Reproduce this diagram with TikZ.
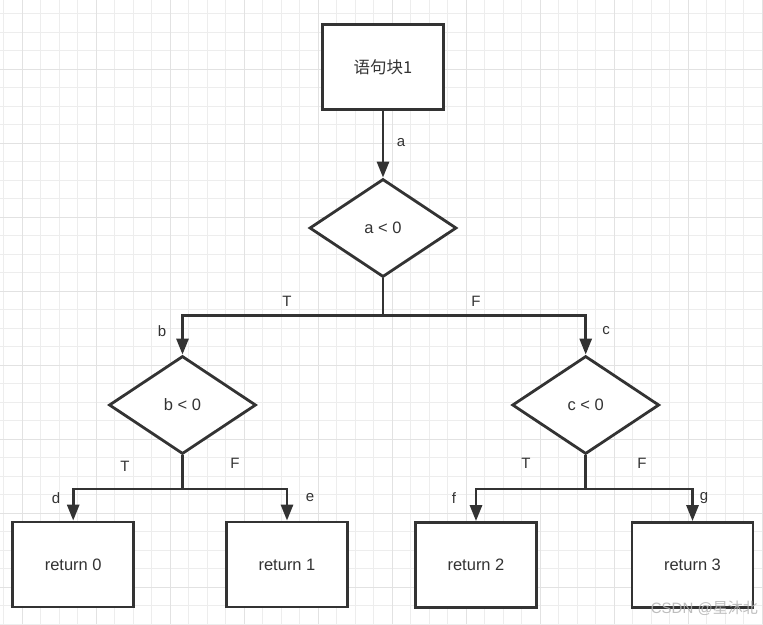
\documentclass[tikz,border=0pt]{standalone}
\usepackage{fontspec}
\setmainfont{Liberation Sans}
\newfontfamily\cjk{Noto Sans CJK SC}
\usetikzlibrary{shapes.geometric,arrows.meta}
\definecolor{ink}{HTML}{333333}
\definecolor{gridminor}{HTML}{EDEDED}
\definecolor{gridmajor}{HTML}{E2E2E2}
\tikzset{
  box/.style={draw=ink, line width=2.8pt, fill=white, minimum width=121pt, minimum height=85pt, inner sep=0pt, text=ink, font=\fontsize{16.5}{19}\selectfont},
  cond/.style={draw=ink, line width=2.8pt, fill=white, diamond, minimum width=147pt, minimum height=98pt, inner sep=0pt, text=ink, font=\fontsize{16.5}{19}\selectfont},
  flow/.style={draw=ink, line width=2.8pt, -{Triangle[length=16pt,width=12pt]}},
  plain/.style={draw=ink, line width=2.8pt},
  lab/.style={text=ink, inner sep=0pt, font=\fontsize{15}{17}\selectfont},
}
\begin{document}
\begin{tikzpicture}[x=1pt,y=-1pt]
\useasboundingbox (0,0) rectangle (763,624);
\fill[white] (0,0) rectangle (763,624);
% grid
\foreach \i in {0,...,41} {
  \pgfmathsetmacro{\gx}{3.8+18.5*\i}
  \draw[gridminor, line width=1pt] (\gx,0) -- (\gx,624);
}
\foreach \i in {0,...,34} {
  \pgfmathsetmacro{\gy}{-4.7+18.5*\i}
  \draw[gridminor, line width=1pt] (0,\gy) -- (763,\gy);
}
\foreach \i in {0,...,10} {
  \pgfmathsetmacro{\gx}{22.3+74*\i}
  \draw[gridmajor, line width=1.3pt] (\gx,0) -- (\gx,624);
}
\foreach \i in {0,...,9} {
  \pgfmathsetmacro{\gy}{-4.7+74*\i}
  \draw[gridmajor, line width=1.3pt] (0,\gy) -- (763,\gy);
}
% nodes
\node[box] (s1) at (383,67) {\cjk 语句块1};
\node[cond] (da) at (383,228) {a < 0};
\node[cond] (db) at (182.5,405) {b < 0};
\node[cond] (dc) at (585.7,405) {c < 0};
\node[box] (r0) at (73.2,564.5) {return 0};
\node[box] (r1) at (287,564.5) {return 1};
\node[box] (r2) at (476,565) {return 2};
\node[box] (r3) at (692.5,565) {return 3};
% junctions
\coordinate (ja) at (383,315.7);
\coordinate (jb) at (182.5,489);
\coordinate (jc) at (585.7,489);
% connectors
\draw[flow] (s1.south) -- (da.north);
\draw[plain] (da.south) -- (ja);
\draw[flow] (ja) -| (db.north);
\draw[flow] (ja) -| (dc.north);
\draw[plain] (db.south) -- (jb);
\draw[flow] (jb) -| (r0.north);
\draw[flow] (jb) -| (r1.north);
\draw[plain] (dc.south) -- (jc);
\draw[flow] (jc) -| (r2.north);
\draw[flow] (jc) -| (r3.north);
% labels
\node[lab] (la) at (401,143) {a};
\node[lab] (lt1) at (287,301) {T};
\node[lab] (lf1) at (476,301) {F};
\node[lab] (lb) at (162,331) {b};
\node[lab] (lc) at (606,331) {c};
\node[lab] (lt2) at (125,466) {T};
\node[lab] (lf2) at (235,463) {F};
\node[lab] (ld) at (56,498) {d};
\node[lab] (le) at (310,498) {e};
\node[lab] (lt3) at (526,463) {T};
\node[lab] (lf3) at (642,463) {F};
\node[lab] (lff) at (454,498) {f};
\node[lab] (lg) at (704,498) {g};
% watermark
\node[text=black!30, opacity=0.85, inner sep=0pt, anchor=east, font=\fontsize{15}{17}\selectfont] (wm) at (758,608) {CSDN @{\cjk 星沐北}};
\end{tikzpicture}
\end{document}
